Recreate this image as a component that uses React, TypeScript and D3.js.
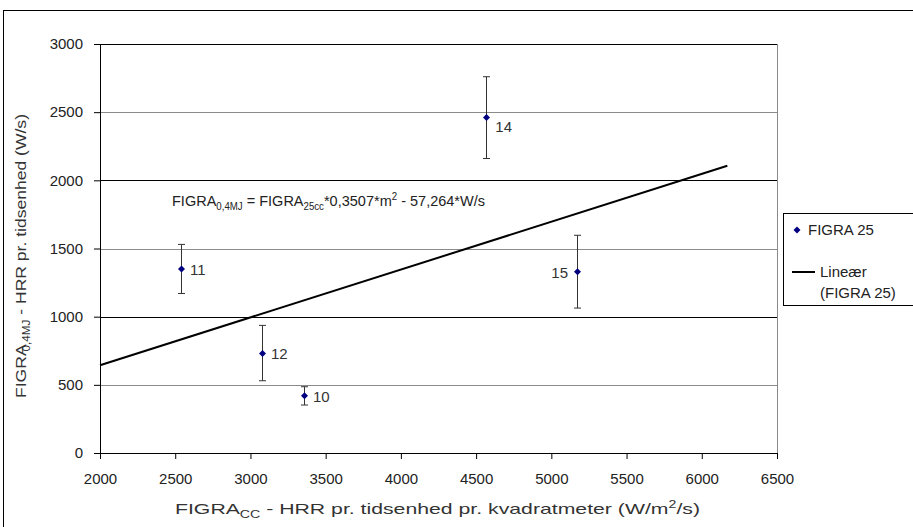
import * as d3 from 'd3';
import { useEffect, useRef } from 'react';

// FIGRA 25 points (x: FIGRA_CC, y: FIGRA_0,4MJ) with error bar limits
const pointX = [2538, 3077, 3356, 4568, 5171];
const pointY = [1350, 730, 420, 2460, 1330];
const errLow = [1170, 530, 352, 2160, 1063];
const errHigh = [1530, 936, 486, 2760, 1597];
const pointLabels = ['11', '12', '10', '14', '15'];

const xTicks = [2000, 2500, 3000, 3500, 4000, 4500, 5000, 5500, 6000, 6500];
const yTicks = [0, 500, 1000, 1500, 2000, 2500, 3000];

// linear trendline as printed on the chart
const trendSlope = 0.3507;
const trendIntercept = -57.264;
const trendRange = [2000, 6170];

const W = 913;
const H = 527;
const plot = { left: 100, right: 777, top: 44, bottom: 453 };
const FONT = '"Liberation Sans", Arial, sans-serif';

// small square diamond marker like Excel's
const diamond = 'M0,-3.5L3.5,0L0,3.5L-3.5,0Z';

export default function App() {
  const axRef = useRef<SVGGElement>(null);

  const x = d3.scaleLinear().domain([2000, 6500]).range([plot.left, plot.right]);
  const y = d3.scaleLinear().domain([0, 3000]).range([plot.bottom, plot.top]);

  useEffect(() => {
    if (!axRef.current) return;
    const g = d3.select(axRef.current);
    g.selectAll('*').remove();

    g.append('g')
      .attr('transform', `translate(0,${plot.bottom})`)
      .call(d3.axisBottom(x).tickValues(xTicks).tickSize(6).tickPadding(14).tickFormat(d3.format('d')))
      .call(s => s.select('.domain').attr('stroke', '#000'))
      .call(s => s.selectAll('line').attr('stroke', '#000'))
      .call(s => s.selectAll('text').attr('fill', '#222').attr('font-size', 15).attr('font-family', FONT));

    g.append('g')
      .attr('transform', `translate(${plot.left},0)`)
      .call(d3.axisLeft(y).tickValues(yTicks).tickSize(6).tickPadding(11).tickFormat(d3.format('d')))
      .call(s => s.select('.domain').attr('stroke', '#000'))
      .call(s => s.selectAll('line').attr('stroke', '#000'))
      .call(s => s.selectAll('text').attr('fill', '#222').attr('font-size', 15).attr('font-family', FONT));
  }, []);

  const trend = d3.line<number>()
    .x(d => x(d))
    .y(d => y(trendSlope * d + trendIntercept));

  return (
    <svg width={W} height={H} style={{ position: 'absolute', left: 0, top: 0, background: '#fff' }}
      fontFamily={FONT}>
      {/* chart area border */}
      <rect x={3.5} y={10.5} width={W + 20} height={H + 20} fill="none" stroke="#000" />

      {/* gridlines */}
      {yTicks.filter(t => t > 0).map((t, i) => (
        <line key={t} x1={plot.left} x2={plot.right} y1={Math.round(y(t)) + 0.5} y2={Math.round(y(t)) + 0.5}
          stroke={i % 2 === 1 ? '#000' : '#8a8a8a'} />
      ))}
      <line x1={plot.right + 0.5} x2={plot.right + 0.5} y1={plot.top} y2={plot.bottom} stroke="#8a8a8a" />

      <g ref={axRef} />

      {/* trendline */}
      <path d={trend(trendRange) ?? ''} stroke="#000" strokeWidth={2} fill="none" />

      {/* error bars and points */}
      {pointX.map((px, i) => {
        const cx = Math.round(x(px)) + 0.5;
        return (
          <g key={i} stroke="#333">
            <line x1={cx} x2={cx} y1={y(errLow[i])} y2={y(errHigh[i])} />
            <line x1={cx - 3.5} x2={cx + 3.5} y1={y(errLow[i])} y2={y(errLow[i])} />
            <line x1={cx - 3.5} x2={cx + 3.5} y1={y(errHigh[i])} y2={y(errHigh[i])} />
          </g>
        );
      })}
      {pointX.map((px, i) => (
        <path key={i} d={diamond} transform={`translate(${Math.round(x(px)) + 0.5},${y(pointY[i])})`} fill="#000080" />
      ))}
      {pointX.map((px, i) => {
        const left = i === 4;
        const dy = i === 3 ? 14 : 6;
        return (
          <text key={i} x={x(px) + (left ? -9 : 9)} y={y(pointY[i]) + dy} fontSize={15} fill="#333"
            textAnchor={left ? 'end' : 'start'}>{pointLabels[i]}</text>
        );
      })}

      {/* equation */}
      <text x={172} y={206} fontSize={15} fill="#222" textLength={313} lengthAdjust="spacingAndGlyphs">
        FIGRA<tspan fontSize={10} dy={4}>0,4MJ</tspan>
        <tspan dy={-4}> = FIGRA</tspan><tspan fontSize={10} dy={4}>25cc</tspan>
        <tspan dy={-4}>*0,3507*m</tspan><tspan fontSize={10} dy={-6}>2</tspan>
        <tspan dy={6}> - 57,264*W/s</tspan>
      </text>

      {/* axis titles */}
      <text x={175} y={514} fontSize={15} fill="#333" textLength={525} lengthAdjust="spacingAndGlyphs">
        FIGRA<tspan fontSize={10} dy={4}>CC</tspan>
        <tspan dy={-4}> - HRR pr. tidsenhed pr. kvadratmeter (W/m</tspan><tspan fontSize={10} dy={-6}>2</tspan>
        <tspan dy={6}>/s)</tspan>
      </text>
      <text transform="translate(26,398) rotate(-90)" fontSize={15} fill="#333" textLength={284}
        lengthAdjust="spacingAndGlyphs">
        FIGRA<tspan fontSize={10} dy={4} dx={-6}>0,4MJ</tspan>
        <tspan dy={-4}> - HRR pr. tidsenhed (W/s)</tspan>
      </text>

      {/* legend */}
      <rect x={783.5} y={213.5} width={140} height={92} fill="#fff" stroke="#000" />
      <path d={diamond} transform="translate(797,230)" fill="#000080" />
      <text x={808} y={235} fontSize={15} fill="#222">FIGRA 25</text>
      <line x1={792} x2={815} y1={272} y2={272} stroke="#000" strokeWidth={2} />
      <text x={820} y={277} fontSize={15} fill="#222">Lineær</text>
      <text x={820} y={298} fontSize={15} fill="#222">(FIGRA 25)</text>
    </svg>
  );
}
